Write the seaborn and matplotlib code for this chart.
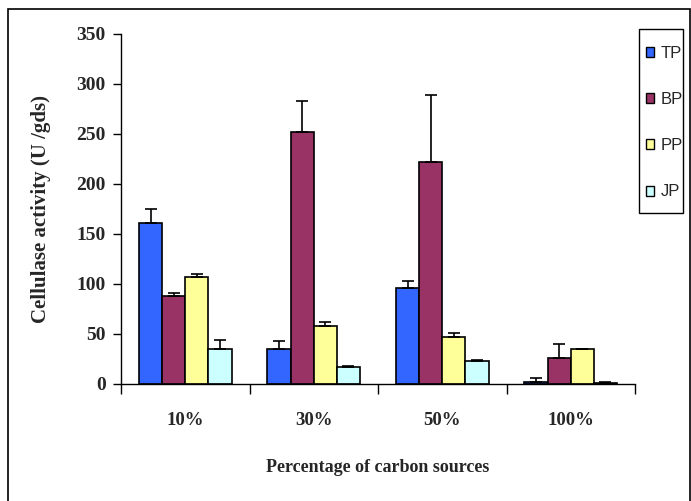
import pandas as pd
import matplotlib.pyplot as plt
import seaborn as sns
from matplotlib.patches import Rectangle

# -----------------------------
# Data
# -----------------------------
levels = ["10%", "30%", "50%", "100%"]
sources = ["TP", "BP", "PP", "JP"]
tp = [161, 35, 96, 2.5]
bp = [88, 252, 222, 26]
pp = [107, 58, 47, 35]
jp = [35, 17, 23, 1.5]
tp_err = [14, 8, 7, 3.5]
bp_err = [3, 31, 67, 14]
pp_err = [3, 4, 4, 0.5]
jp_err = [9, 1.5, 1.5, 1]

colors = ["#3366FF", "#993366", "#FFFF99", "#CCFFFF"]

rows = []
for name, vals, errs in zip(sources, [tp, bp, pp, jp], [tp_err, bp_err, pp_err, jp_err]):
    for lev, v, e in zip(levels, vals, errs):
        rows.append({"level": lev, "source": name, "activity": v, "err": e})
df = pd.DataFrame(rows)

# -----------------------------
# Plot
# -----------------------------
sns.set_style("white")
plt.rcParams["font.family"] = ["Liberation Serif", "DejaVu Serif"]

fig = plt.figure(figsize=(6.91, 5.01), dpi=100)
ax = fig.add_axes([121 / 691, 1 - 384 / 501, (635 - 121) / 691, 350 / 501])

sns.barplot(data=df, x="level", y="activity", hue="source", order=levels,
            hue_order=sources, palette=colors, width=0.72, errorbar=None,
            edgecolor="black", linewidth=1.2, saturation=1, ax=ax, legend=False)

# upward error bars on each bar
for i, name in enumerate(sources):
    sub = df[df["source"] == name].set_index("level").loc[levels]
    bars = ax.containers[i]
    xs = [b.get_x() + b.get_width() / 2 for b in bars]
    ax.errorbar(xs, sub["activity"], yerr=[[0] * len(xs), sub["err"]],
                fmt="none", ecolor="black", elinewidth=1.2, capsize=4, capthick=1.2)

ax.set_ylim(0, 350)
ax.set_xlim(-0.5, 3.5)
ax.set_yticks(range(0, 351, 50))
ax.set_xticks([-0.5, 0.5, 1.5, 2.5, 3.5], minor=False)
ax.set_xticklabels([])
ax.set_xticks([0, 1, 2, 3], minor=True)
ax.set_xticklabels(levels, minor=True)
ax.tick_params(axis="x", which="major", length=7, width=1, color="black", direction="out", bottom=True)
ax.tick_params(axis="x", which="minor", length=0, pad=20, labelsize=13.5)
ax.tick_params(axis="y", length=6, width=1, color="black", direction="out", left=True,
               labelsize=14, pad=5)
for lab in ax.get_xticklabels(minor=True) + ax.get_yticklabels():
    lab.set_fontweight("bold")

for s in ["top", "right"]:
    ax.spines[s].set_visible(False)
for s in ["left", "bottom"]:
    ax.spines[s].set_color("black")
    ax.spines[s].set_linewidth(1)

ax.set_xlabel("Percentage of carbon sources", fontsize=13, fontweight="bold", labelpad=22)
ax.set_ylabel("Cellulase activity (U /gds)", fontsize=15, fontweight="bold", labelpad=18)

# legend: frame drawn separately so it can be taller than the entries
fig.patches.append(Rectangle((639 / 691, 1 - 213 / 501), 44 / 691, 184 / 501,
                             transform=fig.transFigure, facecolor="white",
                             edgecolor="black", linewidth=1, zorder=3))
handles = [Rectangle((0, 0), 1, 1, facecolor=c, edgecolor="black", linewidth=1) for c in colors]
leg = fig.legend(handles, sources, loc="upper left", bbox_to_anchor=(646 / 691, 1 - 46 / 501),
                 frameon=False, handlelength=0.45, handleheight=0.55, handletextpad=0.45,
                 labelspacing=1.87, borderpad=0, borderaxespad=0,
                 prop={"family": "Liberation Sans", "size": 12})
leg.set_zorder(4)

# outer frame
fig.patches.append(Rectangle((8 / 691, -0.01), (690 - 8) / 691, 1 - 9 / 501 + 0.01,
                             transform=fig.transFigure, fill=False, edgecolor="black",
                             linewidth=1.2))

fig.savefig("out.png", dpi=100)
